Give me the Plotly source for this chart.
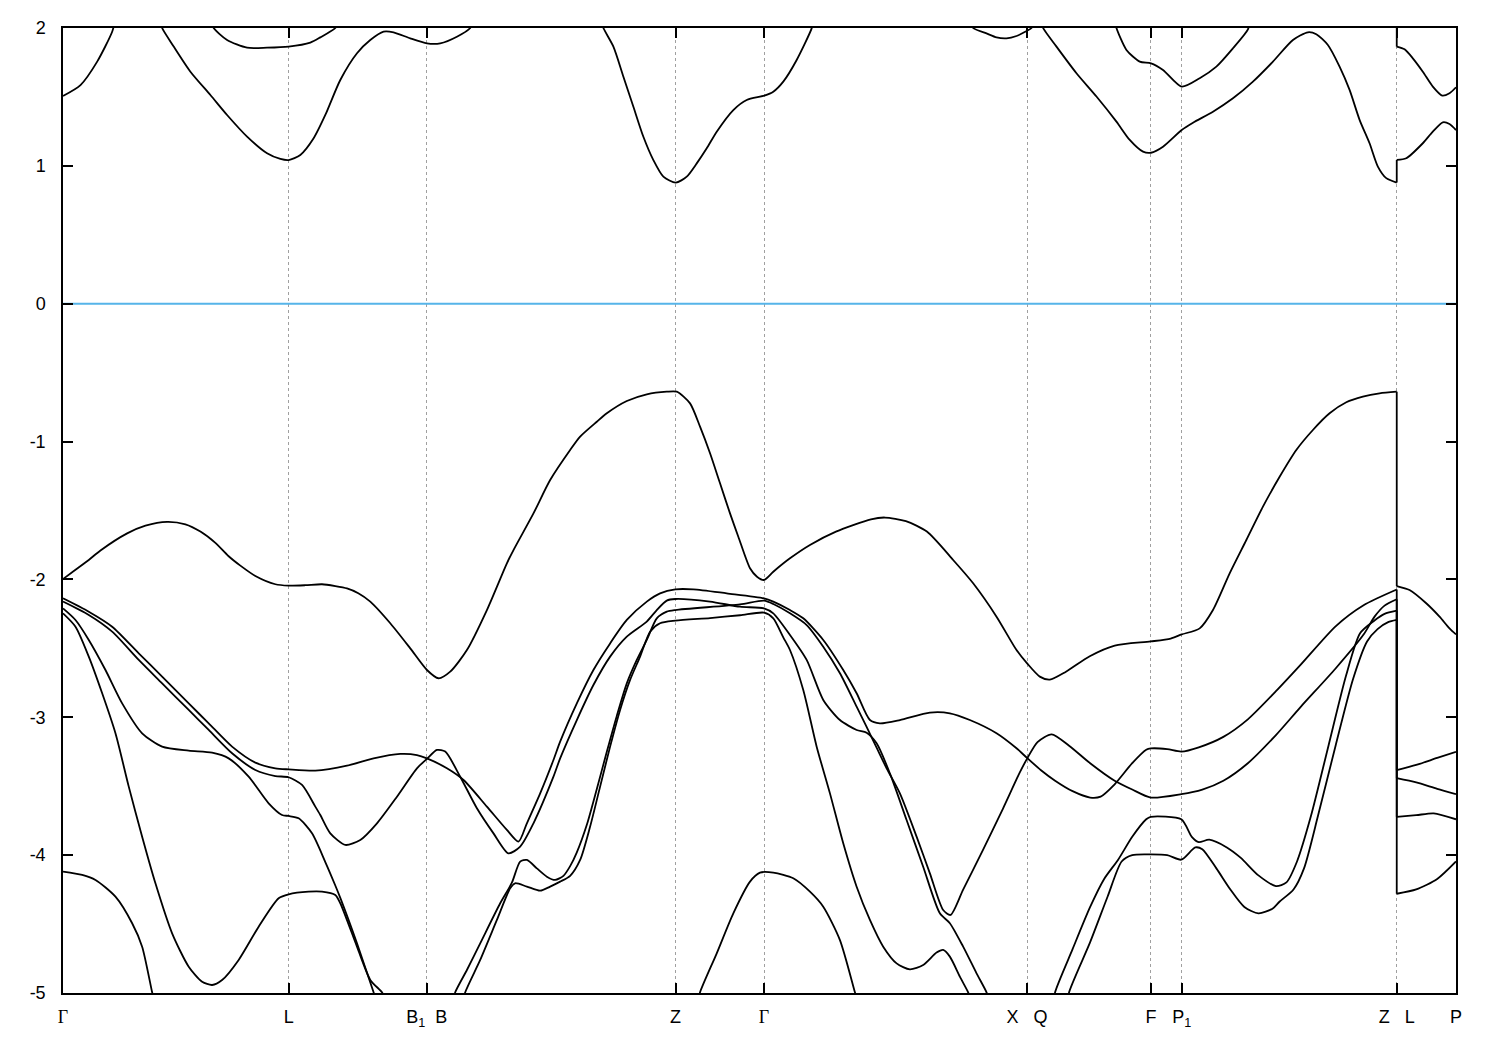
import plotly.graph_objects as go

# ---- high-symmetry points along the k-path (arbitrary path units) ----
kpt_pos = [0.0, 2.26, 3.64, 6.13, 7.015, 9.648, 10.887, 11.195, 13.347, 13.94]
G = "<span style='font-family:Liberation Serif'>Γ</span>"
kpt_labels = [G, "L", "B<sub>1</sub>\u00a0\u00a0B", "Z", G, "X\u00a0\u00a0\u00a0Q",
              "F", "P<sub>1</sub>", "Z\u00a0\u00a0\u00a0L", "P"]
energy_ticks = [-5, -4, -3, -2, -1, 0, 1, 2]
energy_tick_labels = ["-5", "-4", "-3", "-2", "-1", "0", "1", "2"]
fermi_level = 0.0

# ---- valence bands ----
vb_a_k = [0.000, 0.125, 0.258, 0.375, 0.642, 0.825, 1.042, 1.225, 1.375, 1.525, 1.655, 1.775, 1.925,
          2.125, 2.258, 2.425, 2.592, 2.725, 2.842, 2.955, 3.075, 3.275, 3.475, 3.642, 3.758, 3.875,
          4.042, 4.242, 4.442, 4.508, 4.708, 4.875, 5.075, 5.175, 5.342, 5.442, 5.642, 5.842, 6.042,
          6.142, 6.275, 6.375, 6.475, 6.575, 6.675, 6.758, 6.875, 6.945, 7.015, 7.108, 7.275, 7.475,
          7.735, 8.085, 8.225, 8.435, 8.645, 8.908, 9.108, 9.342, 9.542, 9.648, 9.775, 9.875, 10.033,
          10.275, 10.525, 10.885, 11.085, 11.195, 11.375, 11.508, 11.675, 11.842, 12.008, 12.175,
          12.342, 12.508, 12.675, 12.842, 13.008, 13.175, 13.347, 13.347, 13.475, 13.642, 13.775,
          13.875, 13.940]
vb_a_e = [-1.997, -1.930, -1.859, -1.790, -1.666, -1.610, -1.582, -1.600, -1.653, -1.735, -1.830, -1.900,
          -1.975, -2.035, -2.045, -2.042, -2.035, -2.048, -2.065, -2.100, -2.161, -2.318, -2.500, -2.657,
          -2.717, -2.669, -2.512, -2.222, -1.883, -1.787, -1.521, -1.279, -1.061, -0.964, -0.856, -0.795,
          -0.706, -0.657, -0.638, -0.638, -0.723, -0.892, -1.085, -1.303, -1.521, -1.690, -1.919, -1.980,
          -2.004, -1.944, -1.847, -1.750, -1.653, -1.564, -1.551, -1.577, -1.653, -1.859, -2.028, -2.270,
          -2.512, -2.609, -2.705, -2.727, -2.671, -2.557, -2.480, -2.450, -2.429, -2.399, -2.355, -2.222,
          -1.956, -1.714, -1.472, -1.255, -1.061, -0.916, -0.795, -0.715, -0.674, -0.650, -0.638,
          -2.048, -2.077, -2.173, -2.270, -2.355, -2.399]

vb_b_k = [0.000, 0.258, 0.492, 0.758, 0.992, 1.258, 1.458, 1.692, 1.925, 2.125, 2.258, 2.525, 2.842,
          3.108, 3.375, 3.542, 3.642, 3.842, 4.008, 4.242, 4.442, 4.558, 4.642, 4.775, 4.908, 4.975,
          5.142, 5.308, 5.475, 5.642, 5.842, 5.975, 6.128, 6.308, 6.642, 7.015, 7.108, 7.275, 7.408,
          7.608, 7.808, 7.942, 8.075, 8.175, 8.375, 8.675, 8.875, 9.075, 9.342, 9.542, 9.648, 9.787,
          9.928, 10.103, 10.279, 10.384, 10.524, 10.700, 10.840, 10.885, 11.050, 11.191, 11.366,
          11.612, 11.857, 12.138, 12.384, 12.735, 13.015, 13.347, 13.347, 13.542, 13.752, 13.940]
vb_b_e = [-2.137, -2.234, -2.343, -2.536, -2.705, -2.899, -3.044, -3.213, -3.329, -3.370, -3.378, -3.387,
          -3.351, -3.298, -3.266, -3.274, -3.298, -3.370, -3.455, -3.648, -3.817, -3.902, -3.769, -3.552,
          -3.310, -3.177, -2.899, -2.657, -2.464, -2.294, -2.161, -2.101, -2.072, -2.072, -2.101, -2.137,
          -2.161, -2.222, -2.282, -2.439, -2.657, -2.826, -3.020, -3.044, -3.020, -2.966, -2.971, -3.020,
          -3.116, -3.225, -3.295, -3.384, -3.460, -3.536, -3.582, -3.575, -3.486, -3.333, -3.236, -3.226,
          -3.231, -3.249, -3.218, -3.142, -3.015, -2.811, -2.620, -2.340, -2.187, -2.073, -3.384, -3.346,
          -3.295, -3.251]

vb_c_k = [0.000, 0.258, 0.492, 0.758, 0.992, 1.258, 1.458, 1.692, 1.925, 2.125, 2.258, 2.392, 2.525,
          2.575, 2.675, 2.825, 2.975, 3.142, 3.342, 3.542, 3.642, 3.742, 3.825, 3.975, 4.142, 4.308,
          4.458, 4.575, 4.708, 4.908, 4.975, 5.142, 5.308, 5.475, 5.642, 5.842, 5.942, 6.042, 6.128,
          6.475, 6.775, 7.015, 7.108, 7.275, 7.442, 7.608, 7.775, 7.942, 8.042, 8.142, 8.275, 8.442,
          8.608, 8.775, 8.875, 9.008, 9.142, 9.242, 9.255]
vb_c_e = [-2.161, -2.258, -2.379, -2.584, -2.754, -2.947, -3.092, -3.261, -3.382, -3.426, -3.435, -3.491,
          -3.648, -3.709, -3.842, -3.926, -3.890, -3.769, -3.576, -3.370, -3.302, -3.237, -3.249, -3.431,
          -3.660, -3.842, -3.987, -3.938, -3.769, -3.431, -3.298, -3.020, -2.766, -2.560, -2.415, -2.306,
          -2.222, -2.154, -2.142, -2.161, -2.198, -2.210, -2.246, -2.403, -2.584, -2.874, -3.020, -3.092,
          -3.112, -3.189, -3.407, -3.745, -4.084, -4.422, -4.494, -4.664, -4.857, -4.995, -5.030]

vb_d_k = [0.000, 0.125, 0.258, 0.425, 0.592, 0.792, 0.992, 1.258, 1.492, 1.658, 1.858, 2.058, 2.192,
          2.258, 2.358, 2.492, 2.625, 2.725, 2.775, 2.942, 3.108, 3.125]
vb_d_e = [-2.210, -2.294, -2.439, -2.657, -2.899, -3.116, -3.213, -3.242, -3.257, -3.298, -3.431, -3.624,
          -3.709, -3.716, -3.733, -3.842, -4.050, -4.220, -4.310, -4.640, -4.995, -5.030]

vb_e_k = [0.000, 0.125, 0.258, 0.392, 0.525, 0.658, 0.792, 0.925, 1.092, 1.258, 1.392, 1.492, 1.592,
          1.758, 1.958, 2.158, 2.258, 2.458, 2.592, 2.725, 2.775, 2.942, 3.075, 3.192, 3.215]
vb_e_e = [-2.246, -2.343, -2.560, -2.826, -3.116, -3.503, -3.866, -4.204, -4.567, -4.809, -4.918, -4.942,
          -4.906, -4.760, -4.519, -4.313, -4.284, -4.265, -4.265, -4.289, -4.349, -4.664, -4.905, -4.995,
          -5.030]

vb_f_k = [0.000, 0.192, 0.325, 0.525, 0.692, 0.792, 0.892, 0.905]
vb_f_e = [-4.120, -4.144, -4.180, -4.301, -4.494, -4.664, -4.995, -5.030]

vb_g_k = [3.910, 3.925, 4.042, 4.175, 4.375, 4.492, 4.575, 4.642, 4.742, 4.842, 4.925, 5.008, 5.075,
          5.142, 5.242, 5.342, 5.442, 5.542, 5.642, 5.742, 5.842, 5.942, 6.042, 6.128, 6.775, 7.015,
          7.108, 7.275, 7.442, 7.608, 7.775, 7.942, 8.042, 8.142, 8.242, 8.375, 8.542, 8.675, 8.808,
          8.882, 9.008, 9.208, 9.408, 9.575, 9.648, 9.752, 9.893, 10.068, 10.279, 10.524, 10.700,
          10.885, 11.191, 11.401, 11.612, 11.857, 12.138, 12.384, 12.735, 13.015, 13.125, 13.225,
          13.347, 13.347, 13.542, 13.752, 13.940]
vb_g_e = [-5.050, -4.995, -4.833, -4.640, -4.349, -4.200, -4.047, -4.035, -4.096, -4.156, -4.180, -4.150,
          -4.080, -3.980, -3.780, -3.520, -3.250, -2.990, -2.754, -2.584, -2.439, -2.282, -2.234, -2.222,
          -2.181, -2.154, -2.178, -2.246, -2.331, -2.488, -2.681, -2.923, -3.070, -3.220, -3.370, -3.552,
          -3.866, -4.132, -4.398, -4.434, -4.250, -3.960, -3.660, -3.400, -3.300, -3.180, -3.124, -3.206,
          -3.333, -3.460, -3.524, -3.582, -3.557, -3.524, -3.460, -3.333, -3.129, -2.926, -2.646, -2.400,
          -2.270, -2.190, -2.144, -3.442, -3.473, -3.519, -3.557]

vb_h_k = [4.010, 4.025, 4.175, 4.342, 4.475, 4.525, 4.642, 4.775, 4.875, 4.975, 5.075, 5.175, 5.275,
          5.375, 5.475, 5.575, 5.675, 5.775, 5.875, 5.975, 6.128, 6.475, 6.775, 7.015, 7.108, 7.208,
          7.275, 7.408, 7.542, 7.675, 7.808, 7.942, 8.075, 8.208, 8.342, 8.475, 8.608, 8.742, 8.808,
          8.875, 8.975, 9.058, 9.075]
vb_h_e = [-5.050, -4.995, -4.760, -4.470, -4.240, -4.204, -4.228, -4.258, -4.228, -4.192, -4.150, -4.035,
          -3.793, -3.503, -3.213, -2.947, -2.729, -2.560, -2.379, -2.318, -2.299, -2.280, -2.260, -2.241,
          -2.282, -2.420, -2.512, -2.802, -3.213, -3.552, -3.914, -4.229, -4.470, -4.664, -4.785, -4.828,
          -4.797, -4.707, -4.688, -4.736, -4.881, -4.995, -5.030]

vb_i_k = [6.360, 6.375, 6.542, 6.708, 6.875, 6.975, 7.108, 7.308, 7.475, 7.608, 7.775, 7.925, 7.940]
vb_i_e = [-5.050, -4.995, -4.712, -4.422, -4.192, -4.127, -4.127, -4.168, -4.265, -4.374, -4.616, -4.995,
          -5.030]

vb_j_k = [9.923, 9.928, 10.103, 10.279, 10.419, 10.559, 10.700, 10.840, 10.885, 11.191, 11.296, 11.366,
          11.471, 11.647, 11.787, 11.963, 12.138, 12.243, 12.349, 12.489, 12.664, 12.840, 12.980, 13.121,
          13.225, 13.347, 13.347, 13.542, 13.717, 13.940]
vb_j_e = [-5.050, -4.995, -4.682, -4.376, -4.173, -4.033, -3.867, -3.740, -3.722, -3.740, -3.867, -3.906,
          -3.888, -3.944, -4.020, -4.147, -4.224, -4.198, -4.046, -3.715, -3.206, -2.697, -2.391, -2.300,
          -2.250, -2.227, -3.722, -3.710, -3.697, -3.740]

vb_k_k = [10.063, 10.068, 10.279, 10.454, 10.594, 10.700, 10.885, 11.050, 11.191, 11.331, 11.401, 11.542,
          11.682, 11.822, 11.963, 12.103, 12.173, 12.314, 12.419, 12.559, 12.735, 12.910, 13.050, 13.155,
          13.261, 13.347, 13.347, 13.542, 13.752, 13.940]
vb_k_e = [-5.050, -4.995, -4.631, -4.300, -4.046, -4.000, -3.995, -4.000, -4.033, -3.944, -3.957, -4.096,
          -4.249, -4.376, -4.422, -4.389, -4.338, -4.249, -4.096, -3.715, -3.206, -2.722, -2.450, -2.360,
          -2.310, -2.294, -4.280, -4.249, -4.173, -4.046]

# ---- conduction bands ----
cb_a_k = [0.000, 0.175, 0.342, 0.492, 0.520]
cb_a_e = [1.507, 1.586, 1.756, 1.973, 2.050]

cb_b_k = [0.975, 0.992, 1.108, 1.275, 1.475, 1.642, 1.842, 2.042, 2.175, 2.258, 2.375, 2.508, 2.625,
          2.775, 2.942, 3.075, 3.208, 3.308, 3.475, 3.642, 3.775, 3.942, 4.075, 4.095]
cb_b_e = [2.050, 2.000, 1.865, 1.683, 1.514, 1.369, 1.212, 1.091, 1.050, 1.042, 1.079, 1.200, 1.369,
          1.623, 1.817, 1.913, 1.974, 1.969, 1.925, 1.889, 1.889, 1.937, 2.000, 2.040]

cb_c_k = [1.490, 1.508, 1.642, 1.842, 2.042, 2.258, 2.475, 2.575, 2.725, 2.745]
cb_c_e = [2.040, 2.000, 1.913, 1.857, 1.857, 1.865, 1.894, 1.932, 2.000, 2.040]

cb_d_k = [5.395, 5.408, 5.508, 5.608, 5.708, 5.808, 5.908, 6.008, 6.132, 6.242, 6.342, 6.442, 6.542,
          6.708, 6.842, 7.018, 7.108, 7.208, 7.342, 7.492, 7.505]
cb_d_e = [2.040, 2.000, 1.865, 1.647, 1.429, 1.211, 1.042, 0.922, 0.878, 0.922, 1.018, 1.127, 1.248,
          1.405, 1.478, 1.509, 1.538, 1.611, 1.768, 1.997, 2.040]

cb_e_k = [9.090, 9.108, 9.242, 9.342, 9.442, 9.542, 9.648, 9.692, 9.705]
cb_e_e = [2.040, 2.000, 1.961, 1.932, 1.925, 1.942, 1.980, 2.000, 2.030]

cb_f_k = [9.795, 9.808, 9.942, 10.142, 10.342, 10.542, 10.675, 10.808, 10.888, 11.008, 11.195, 11.308,
          11.508, 11.708, 11.908, 12.108, 12.308, 12.458, 12.542, 12.658, 12.775, 12.875, 12.975,
          13.075, 13.158, 13.242, 13.347, 13.347, 13.442, 13.608, 13.708, 13.808, 13.875, 13.940]
cb_f_e = [2.040, 2.000, 1.865, 1.672, 1.503, 1.321, 1.188, 1.103, 1.095, 1.139, 1.260, 1.313, 1.393,
          1.490, 1.611, 1.756, 1.913, 1.969, 1.955, 1.877, 1.720, 1.551, 1.334, 1.164, 0.995, 0.911,
          0.879, 1.043, 1.055, 1.164, 1.248, 1.316, 1.304, 1.260]

cb_g_k = [10.530, 10.542, 10.642, 10.775, 10.888, 11.008, 11.195, 11.375, 11.542, 11.708, 11.858, 11.870]
cb_g_e = [2.040, 2.000, 1.841, 1.756, 1.744, 1.696, 1.575, 1.636, 1.720, 1.853, 1.990, 2.040]

cb_h_k = [13.347, 13.347, 13.425, 13.508, 13.608, 13.708, 13.802, 13.875, 13.940]
cb_h_e = [2.200, 1.865, 1.845, 1.780, 1.683, 1.575, 1.510, 1.527, 1.570]

bands = [
    (vb_a_k, vb_a_e), (vb_b_k, vb_b_e), (vb_c_k, vb_c_e), (vb_d_k, vb_d_e), (vb_e_k, vb_e_e),
    (vb_f_k, vb_f_e), (vb_g_k, vb_g_e), (vb_h_k, vb_h_e), (vb_i_k, vb_i_e), (vb_j_k, vb_j_e),
    (vb_k_k, vb_k_e), (cb_a_k, cb_a_e), (cb_b_k, cb_b_e), (cb_c_k, cb_c_e), (cb_d_k, cb_d_e),
    (cb_e_k, cb_e_e), (cb_f_k, cb_f_e), (cb_g_k, cb_g_e), (cb_h_k, cb_h_e),
]

LINE = dict(color="black", width=1.8)


def split_at_jumps(k, e):
    """Split a band at discontinuities (repeated k) into smooth pieces and jump connectors."""
    pieces, jumps = [], []
    ck, ce = [k[0]], [e[0]]
    for i in range(1, len(k)):
        if k[i] == k[i - 1]:
            pieces.append((ck, ce))
            jumps.append(([k[i - 1], k[i]], [e[i - 1], e[i]]))
            ck, ce = [k[i]], [e[i]]
        else:
            ck.append(k[i])
            ce.append(e[i])
    pieces.append((ck, ce))
    return pieces, jumps


fig = go.Figure()
for k, e in bands:
    pieces, jumps = split_at_jumps(k, e)
    for pk, pe in pieces:
        if len(pk) < 2:
            continue
        fig.add_trace(go.Scatter(x=pk, y=pe, mode="lines",
                                 line=dict(LINE, shape="spline", smoothing=0.7),
                                 hoverinfo="skip", showlegend=False))
    for jk, je in jumps:
        fig.add_trace(go.Scatter(x=jk, y=je, mode="lines", line=LINE,
                                 hoverinfo="skip", showlegend=False))

fig.add_trace(go.Scatter(x=[kpt_pos[0], kpt_pos[-1]], y=[fermi_level, fermi_level], mode="lines",
                         line=dict(color="#56b4e9", width=2), hoverinfo="skip", showlegend=False))

font = dict(family="Liberation Sans, Arial, sans-serif", size=18, color="black")

fig.update_layout(
    width=1500, height=1050,
    margin=dict(l=63, r=44, t=28, b=57),
    paper_bgcolor="white", plot_bgcolor="white",
    font=font,
    showlegend=False,
)
fig.update_xaxes(
    range=[kpt_pos[0], kpt_pos[-1]],
    tickmode="array", tickvals=kpt_pos, ticktext=kpt_labels,
    ticks="inside", ticklen=10, tickwidth=1.5, tickcolor="black",
    showline=True, linecolor="black", linewidth=1.5, mirror="allticks",
    showgrid=True, gridcolor="#a0a0a0", gridwidth=1, griddash="3px,3px",
    zeroline=False, tickfont=font, ticklabelstandoff=7,
)
fig.update_yaxes(
    range=[-5, 2],
    tickmode="array", tickvals=energy_ticks, ticktext=energy_tick_labels,
    ticks="inside", ticklen=10, tickwidth=1.5, tickcolor="black",
    showline=True, linecolor="black", linewidth=1.5, mirror="allticks",
    showgrid=False, zeroline=False, tickfont=font, ticklabelstandoff=12,
)

fig.write_html("out.html", config={"displayModeBar": False},
               post_script="document.body.style.margin='0';document.body.style.overflow='hidden';")
